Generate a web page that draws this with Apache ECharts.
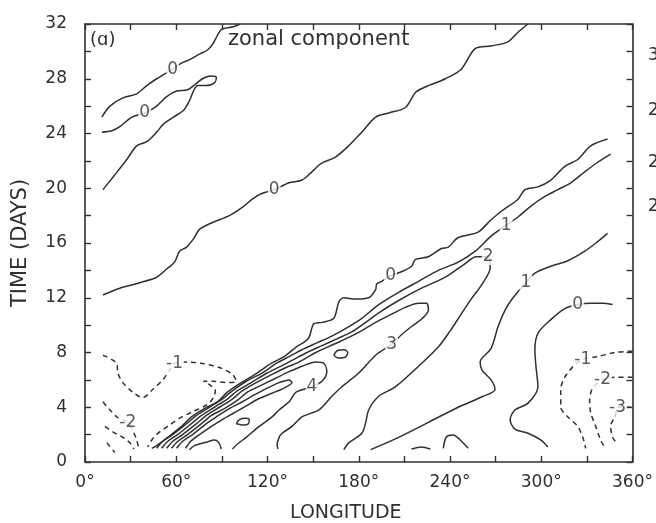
<!DOCTYPE html>
<html><head><meta charset="utf-8">
<script src="https://cdn.jsdelivr.net/npm/echarts@6/dist/echarts.min.js"></script>
<style>html,body{margin:0;padding:0;background:#fff}#c{width:656px;height:523px}</style>
</head><body><div id="c"></div><script>
// Axis ticks
const lonLabelTicks = [0, 60, 120, 180, 240, 300, 360];
const dayLabelTicks = [0, 4, 8, 12, 16, 20, 24, 28, 32];

// Contours [longitude, day]
const c0TopLeft = [[11.1,25.2],[16.4,26.0],[24.9,26.6],[34.0,26.9],[40.6,27.5],[47.1,28.0],[53.0,28.4],[57.6,28.7],[62.8,29.1],[68.7,29.4],[75.3,29.8],[80.5,30.1],[83.8,30.5],[87.7,31.3],[89.7,31.6],[92.9,31.7],[97.5,31.8],[102.1,32.0]];
const c0Loop = [[11.1,24.1],[17.7,24.2],[22.9,24.5],[30.8,25.2],[39.3,25.5],[47.1,26.0],[53.7,26.7],[60.2,27.1],[67.4,27.2],[72.6,27.6],[77.2,28.0],[82.5,28.2],[86.4,28.1],[85.1,27.7],[79.2,27.5],[74.0,27.5],[71.3,27.1],[68.7,26.4],[64.8,25.7],[58.2,25.2],[51.7,24.7],[47.1,24.1],[40.6,23.4],[34.0,23.1],[27.5,22.1],[19.0,20.9],[11.8,19.9]];
const c0Long = [[11.8,12.2],[22.9,12.7],[36.0,13.1],[47.1,13.5],[53.7,14.1],[58.9,14.6],[62.2,15.4],[66.8,15.7],[71.3,16.3],[75.3,17.0],[83.8,17.5],[94.9,18.0],[103.4,18.6],[110.0,19.2],[115.8,19.6],[124.4,19.9],[134.2,20.4],[142.7,20.6],[149.2,21.2],[155.1,21.8],[164.9,22.3],[173.4,23.1],[182.0,24.1],[191.1,25.2],[199.6,25.5],[210.7,25.9],[217.3,27.0],[223.8,27.4],[236.9,28.0],[247.4,28.7],[256.5,30.2],[267.0,30.4],[278.1,30.7],[284.7,31.4],[291.2,32.0]];
const band0 = [[43.9,1.0],[47.1,1.2],[54.3,1.8],[63.5,2.6],[70.0,3.3],[78.5,3.9],[87.0,4.4],[93.6,5.1],[102.8,5.8],[113.2,6.5],[122.4,7.2],[130.9,7.7],[138.8,8.4],[144.6,8.8],[147.3,9.1],[149.2,9.8],[150.5,10.1],[155.8,10.2],[163.6,10.5],[166.9,11.7],[170.2,12.0],[178.0,11.9],[186.5,12.0],[191.1,12.6],[191.8,13.0],[195.0,13.2],[200.9,13.6],[208.1,13.9],[214.7,14.3],[217.3,14.8],[225.8,15.0],[234.3,15.6],[238.9,15.7],[245.4,16.4],[258.5,16.8],[267.0,17.7],[273.6,18.3],[284.7,19.2],[289.3,19.9],[297.8,20.1],[306.3,20.6],[315.5,21.6],[324.0,22.1],[332.5,23.1],[343.6,23.6]];
const band1 = [[47.1,1.0],[51.1,1.5],[57.6,2.0],[66.8,2.8],[73.3,3.4],[81.8,4.0],[90.3,4.6],[96.9,5.2],[106.0,5.9],[116.5,6.5],[125.7,7.2],[134.2,7.7],[142.7,8.2],[152.5,8.7],[162.3,9.2],[172.1,9.8],[182.0,10.5],[193.1,11.5],[206.2,12.4],[219.3,13.2],[232.3,14.0],[245.4,14.6],[256.6,15.4],[267.0,16.5],[276.9,17.3],[284.7,17.9],[293.2,18.7],[302.4,19.4],[310.9,19.9],[319.4,20.4],[328.6,21.2],[337.1,21.9],[345.6,22.5]];
const band2 = [[50.4,1.0],[54.3,1.5],[60.9,2.0],[70.0,2.8],[76.6,3.4],[85.1,4.0],[93.6,4.6],[100.1,5.2],[109.3,5.8],[119.8,6.5],[128.9,7.0],[137.4,7.5],[146.0,8.0],[155.8,8.5],[165.6,9.0],[175.4,9.5],[184.6,10.2],[193.1,10.9],[206.2,11.8],[221.2,12.7],[236.9,13.5],[250.0,14.5],[257.2,15.0],[265.1,15.0],[266.4,14.2],[261.1,13.0],[253.9,11.9],[246.7,10.7],[240.2,9.6],[232.3,8.4],[219.3,7.0],[204.2,5.5],[193.1,4.8],[186.5,3.8],[184.6,2.9],[182.0,2.1],[173.4,1.4],[170.2,0.9]];
const band3 = [[53.7,1.0],[57.6,1.5],[64.1,2.0],[73.3,2.8],[79.8,3.4],[88.4,4.0],[96.9,4.6],[103.4,5.2],[112.6,5.8],[123.0,6.4],[132.2,6.9],[140.7,7.3],[151.8,8.0],[163.6,8.6],[173.4,9.1],[182.0,9.6],[191.1,10.2],[201.6,10.8],[210.7,11.3],[219.3,11.6],[224.5,11.6],[225.8,11.1],[221.9,10.5],[214.7,9.9],[208.1,9.3],[201.6,8.6],[191.1,7.8],[180.0,6.5],[168.9,5.5],[162.3,4.8],[153.8,3.8],[142.7,3.3],[136.1,2.6],[129.6,2.1],[127.6,1.8],[126.3,1.2],[127.0,0.95]];
const band4 = [[56.9,1.0],[60.9,1.5],[67.4,2.0],[76.6,2.8],[83.1,3.4],[91.6,3.9],[100.1,4.5],[106.7,5.1],[115.8,5.6],[125.0,6.1],[134.2,6.6],[142.7,7.0],[151.8,7.3],[157.1,7.2],[159.0,6.6],[155.8,5.9],[149.2,5.5],[138.8,5.1],[134.2,4.4],[127.6,3.8],[123.0,3.3],[114.5,2.6],[106.0,1.8],[100.1,1.3],[96.9,0.95]];
const band5 = [[60.2,1.0],[64.1,1.5],[70.7,2.0],[79.8,2.8],[86.4,3.3],[94.9,3.9],[103.4,4.4],[111.3,4.9],[119.8,5.4],[127.6,5.8],[134.2,6.0],[136.1,5.8],[130.9,5.4],[122.4,5.0],[113.9,4.6],[106.0,4.1],[98.2,3.6],[90.3,3.1],[83.1,2.6],[75.3,2.0],[69.4,1.5],[66.1,1.0]];
const arch = [[68.7,0.9],[72.0,1.2],[79.8,1.45],[85.1,1.6],[87.7,1.45],[89.7,0.95]];
const oval1 = [[99.5,2.8],[101.5,3.1],[105.5,3.2],[108.0,3.1],[107.5,2.8],[104.5,2.7],[99.5,2.8]];
const oval2 = [[163.6,7.8],[166.0,8.15],[170.5,8.2],[172.8,8.0],[171.0,7.65],[166.5,7.6],[163.6,7.8]];
const right1 = [[187.8,0.9],[206.2,1.8],[225.8,2.9],[245.4,4.0],[261.8,4.8],[269.6,5.3],[267.0,6.0],[261.1,6.7],[259.8,7.3],[267.0,8.3],[271.6,9.9],[276.2,11.1],[281.4,12.0],[289.9,13.1],[295.8,13.8],[306.3,14.3],[317.4,14.7],[328.6,15.4],[337.1,16.1],[343.6,16.7]];
const right0 = [[304.3,1.1],[299.8,1.6],[291.3,2.1],[282.7,2.4],[279.5,3.1],[282.7,3.8],[291.3,4.3],[297.8,5.5],[296.5,7.0],[295.8,8.2],[297.8,9.4],[306.3,10.4],[315.5,11.2],[324.0,11.5],[332.5,11.6],[340.3,11.6],[346.9,11.5]];
const rightNeg1 = [[360,8.1],[348.2,8.0],[337.1,7.7],[327.3,7.5],[322.0,7.1],[315.5,6.2],[312.8,5.3],[312.8,4.0],[317.4,3.3],[324.0,2.6],[327.3,1.8],[329.2,1.0]];
const rightNeg2 = [[360,6.2],[348.2,6.2],[340.3,6.0],[333.8,5.4],[331.8,4.5],[332.5,3.6],[335.8,2.6],[339.0,1.6],[341.0,1.2]];
const rightNeg3 = [[359,4.0],[350.1,4.0],[348.8,3.4],[345.6,2.6],[346.9,1.8],[348.8,1.5]];
const leftNeg1 = [[11.8,7.8],[20.9,7.2],[21.6,6.5],[24.9,5.8],[31.4,5.1],[38.0,4.7],[44.5,5.3],[51.1,6.0],[55.6,6.7],[58.9,7.2],[66.8,7.3],[77.2,7.2],[88.4,6.9],[96.9,6.4],[99.5,5.9],[92.9,5.8],[83.8,5.9],[77.9,5.9],[82.5,5.6],[85.7,5.2],[84.4,4.7],[80.5,4.2],[71.3,3.7],[62.2,3.2],[55.6,2.7],[49.1,2.2],[44.5,1.7],[41.2,1.1]];
const leftNeg2 = [[11.8,4.4],[16.4,3.8],[20.9,3.3],[28.1,2.9],[31.4,2.3],[34.0,1.6],[35.3,1.0]];
const leftNeg2b = [[13.1,2.6],[18.3,2.2],[24.9,1.8],[29.5,1.4],[32.1,0.95]];
const leftNeg3 = [[14.4,1.4],[19.6,0.7]];
const smallArch = [[235.6,1.0],[237.6,1.83],[242.2,1.98],[246.7,1.61],[252.0,1.0]];
const smallDash = [[214.7,0.95],[221.2,1.1],[227.1,0.95]];

const solidContours = [c0TopLeft, c0Loop, c0Long, band0, band1, band2, band3, band4, band5, arch, oval1, oval2, right1, right0, smallArch, smallDash];
const dashedContours = [rightNeg1, rightNeg2, rightNeg3, leftNeg1, leftNeg2, leftNeg2b, leftNeg3];

// Contour labels [lon, day, text]
const contourLabels = [
  [57.6,28.7,'0'],[39.3,25.5,'0'],[124.4,19.9,'0'],[200.9,13.6,'0'],
  [276.9,17.3,'1'],[265.1,15.0,'2'],[201.6,8.6,'3'],[149.2,5.5,'4'],
  [289.9,13.1,'1'],[324.0,11.5,'0'],[58.9,7.2,'-1'],[28.1,2.9,'-2'],
  [327.3,7.5,'-1'],[340.3,6.0,'-2'],[350.1,4.0,'-3']
];

const INK = '#303030';
const FONT = 'DejaVu Sans';
const chart = echarts.init(document.getElementById('c'), null, {renderer: 'canvas'});
const series = [];
solidContours.forEach(d => series.push({type:'line', data:d, showSymbol:false, smooth:0.3, silent:true,
  lineStyle:{color:INK, width:1.5}, xAxisIndex:0, yAxisIndex:0, z:2}));
dashedContours.forEach(d => series.push({type:'line', data:d, showSymbol:false, smooth:0.3, silent:true,
  lineStyle:{color:INK, width:1.5, type:[5,4]}, xAxisIndex:0, yAxisIndex:0, z:2}));
series.push({type:'scatter', symbolSize:0, silent:true, z:5,
  data: contourLabels.map(l => ({value:[l[0], l[1]], name:l[2]})),
  label:{show:true, position:'inside', formatter:p => p.name, fontFamily:FONT, fontSize:17, color:INK,
    backgroundColor:'#fff', padding:[0,1]}});

const axisCommon = {
  axisLine:{show:true, onZero:false, lineStyle:{color:INK, width:1.6}},
  axisTick:{show:true, inside:true, length:6, lineStyle:{color:INK, width:1.4}},
  splitLine:{show:false}
};
chart.setOption({
  animation:false,
  backgroundColor:'#fff',
  grid:{left:85, top:24, width:550, height:438},
  xAxis:[
    Object.assign({type:'value', min:0, max:360, interval:30, position:'bottom',
      axisLabel:{margin:12, fontFamily:FONT, fontSize:17, color:INK,
        formatter:v => lonLabelTicks.includes(v) ? v + '°' : ''}}, axisCommon),
    Object.assign({type:'value', min:0, max:360, interval:30, position:'top', axisLabel:{show:false}}, axisCommon)
  ],
  yAxis:[
    Object.assign({type:'value', min:0, max:32, interval:2, position:'left',
      axisLabel:{margin:18, fontFamily:FONT, fontSize:17, color:INK,
        formatter:v => dayLabelTicks.includes(v) ? String(v) : ''},
      name:'TIME (DAYS)', nameLocation:'middle', nameGap:54, nameRotate:90,
      nameTextStyle:{fontFamily:FONT, fontSize:21, color:INK}}, axisCommon),
    Object.assign({type:'value', min:0, max:32, interval:2, position:'right', axisLabel:{show:false}}, axisCommon)
  ],
  graphic:[
    {type:'text', left:290, top:504, style:{text:'LONGITUDE', fontFamily:FONT, fontSize:19, fill:INK}},
    {type:'text', left:90, top:31, style:{text:'(ɑ)', fontFamily:FONT, fontSize:18, fill:INK}},
    {type:'text', left:228, top:29, style:{text:'zonal component', fontFamily:FONT, fontSize:21, fill:INK}},
    {type:'text', left:648, top:47, style:{text:'3', fontFamily:FONT, fontSize:17, fill:INK}},
    {type:'text', left:648, top:102, style:{text:'2', fontFamily:FONT, fontSize:17, fill:INK}},
    {type:'text', left:648, top:154, style:{text:'2', fontFamily:FONT, fontSize:17, fill:INK}},
    {type:'text', left:648, top:198, style:{text:'2', fontFamily:FONT, fontSize:17, fill:INK}}
  ],
  series:series
});
</script></body></html>
